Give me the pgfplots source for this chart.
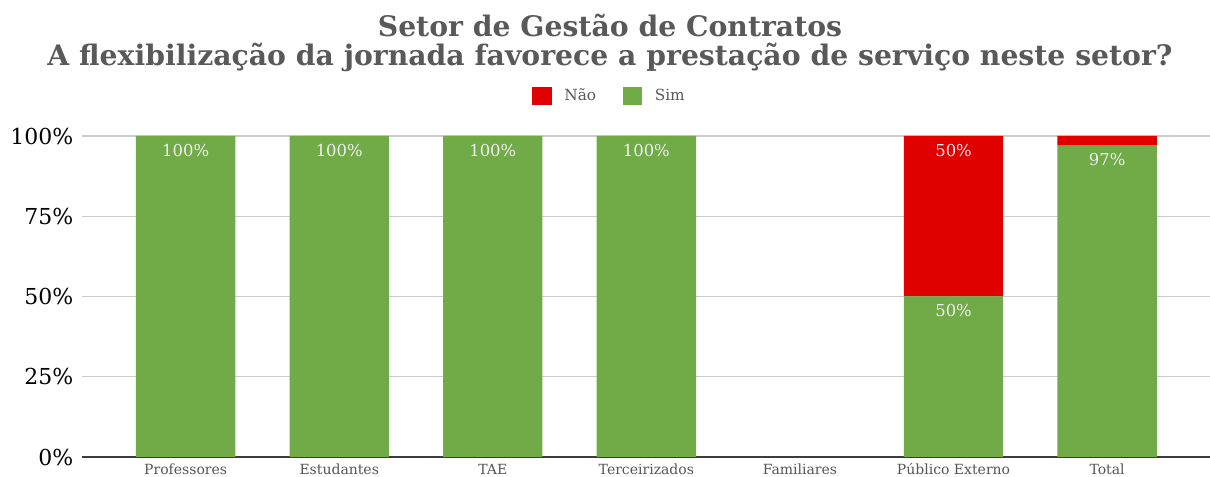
\documentclass[border=0pt]{standalone}
\usepackage{pgfplots}
\pgfplotsset{compat=1.18}
\usepackage{pgfplotstable}
\usepackage{fontspec}
\setmainfont{DejaVu Serif}
\definecolor{simgreen}{RGB}{112,171,71}
\definecolor{naored}{RGB}{224,0,0}
\definecolor{titlegray}{RGB}{89,89,89}
\definecolor{labgray}{RGB}{85,85,85}
\definecolor{gridgray}{RGB}{204,204,204}
\definecolor{axisgray}{RGB}{60,60,60}

\pgfplotstableread{
x sim nao simlab naolab
0 100 0 {100\%} {}
1 100 0 {100\%} {}
2 100 0 {100\%} {}
3 100 0 {100\%} {}
5 50 50 {50\%} {50\%}
6 97 3 {97\%} {}
}\datatable

\begin{document}
\begin{tikzpicture}
\path[use as bounding box] (-61.5pt,-15pt) rectangle (846pt,342.75pt);
\begin{axis}[
  at={(0,0)}, anchor=south west,
  scale only axis, width=846pt, height=240.75pt,
  xmin=-0.675, xmax=6.67, ymin=0, ymax=100,
  ybar stacked, bar width=74.5pt,
  xtick={0,...,6},
  xticklabels={Professores,Estudantes,TAE,Terceirizados,Familiares,Público Externo,Total},
  ytick={0,25,50,75,100},
  yticklabels={0\%,25\%,50\%,75\%,100\%},
  ymajorgrids, grid style={draw=gridgray, line width=0.8pt},
  axis x line*=bottom, axis y line*=left,
  y axis line style={draw=none},
  x axis line style={draw=axisgray, line width=1.1pt, -},
  major tick length=0pt,
  /pgf/number format/assume math mode=true,
  xticklabel style={font=\fontsize{10.5}{12}\selectfont, text=labgray, yshift=-3.3pt,
    text height=8pt, text depth=2.3pt, inner sep=1.5pt},
  yticklabel style={font=\fontsize{16.5}{19}\selectfont, text=black, xshift=-3pt},
  legend style={at={(0.468,1.1246)}, anchor=center, draw=none, fill=none,
    font=\fontsize{11.5}{13}\selectfont, text=titlegray,
    /tikz/every even column/.append style={column sep=18pt}},
  legend columns=2,
  legend image code/.code={\fill[#1, draw=none] (0pt,-7pt) rectangle (14.5pt,7pt); \path[draw=none, fill=none] (0pt,-7pt) rectangle (22pt,7pt);},
]
\addlegendimage{fill=naored}
\addlegendentry{Não}
\addlegendimage{fill=simgreen}
\addlegendentry{Sim}
\addplot[fill=simgreen, draw=none, point meta=explicit symbolic, forget plot,
  visualization depends on={rawy \as \h},
  nodes near coords,
  every node near coord/.append style={anchor=north, yshift={\h*1.20375pt-2.5pt},
    font=\fontsize{12.3}{14}\selectfont, text=white!94!black}]
  table[x=x, y=sim, meta=simlab] {\datatable};
\addplot[fill=naored, draw=none, point meta=explicit symbolic, forget plot,
  visualization depends on={rawy \as \h},
  nodes near coords,
  every node near coord/.append style={anchor=north, yshift={\h*1.20375pt-2.5pt},
    font=\fontsize{12.3}{14}\selectfont, text=white!94!black}]
  table[x=x, y=nao, meta=naolab] {\datatable};
\end{axis}
\node[font=\bfseries\fontsize{21.2}{24}\selectfont, text=titlegray] at (396pt,323.5pt) {Setor de Gestão de Contratos};
\node[font=\bfseries\fontsize{21.2}{24}\selectfont, text=titlegray] at (396pt,299.5pt) {A flexibilização da jornada favorece a prestação de serviço neste setor?};
\end{tikzpicture}
\end{document}
